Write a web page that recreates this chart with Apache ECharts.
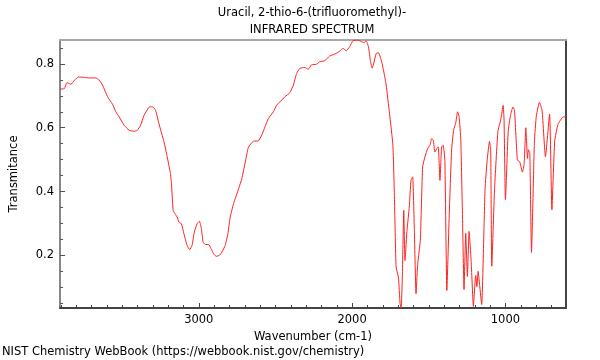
<!DOCTYPE html>
<html>
<head>
<meta charset="utf-8">
<script src="https://cdn.jsdelivr.net/npm/echarts@6/dist/echarts.min.js"></script>
<style>html,body{margin:0;padding:0;background:#fff}#c{width:600px;height:360px}</style>
</head>
<body>
<div id="c"></div>
<script>
// Wavenumber (cm-1) and transmittance
const wavenumber = [3905,3876,3861,3848,3834,3811,3784,3747,3714,3671,3649,3628,3595,3563,3541,3519,3487,3454,3422,3401,3379,3357,3325,3303,3282,3260,3227,3206,3186,3178,3167,3152,3141,3130,3113,3097,3076,3059,3044,3029,3011,2996,2983,2972,2957,2935,2920,2903,2886,2866,2849,2828,2810,2795,2773,2740,2719,2698,2676,2643,2611,2589,2568,2546,2513,2492,2470,2438,2406,2383,2362,2341,2308,2286,2265,2232,2211,2178,2146,2113,2081,2059,2038,2016,1994,1962,1940,1923,1908,1893,1880,1869,1858,1843,1828,1810,1793,1778,1756,1734,1724,1713,1698,1687,1680,1672,1663,1655,1642,1627,1616,1605,1594,1583,1572,1555,1540,1525,1507,1492,1481,1471,1460,1447,1438,1427,1416,1406,1395,1382,1367,1351,1338,1323,1312,1302,1291,1280,1270,1259,1248,1237,1223,1209,1194,1186,1178,1168,1155,1133,1119,1104,1096,1089,1071,1049,1031,1015,1009,1000,982,967,951,941,922,907,889,878,867,856,850,841,830,811,798,778,761,739,712,697,679,657,623,605];
const transmittance = [0.721,0.723,0.741,0.739,0.736,0.749,0.759,0.758,0.756,0.756,0.749,0.734,0.697,0.674,0.650,0.634,0.608,0.592,0.589,0.592,0.608,0.639,0.664,0.666,0.655,0.613,0.556,0.509,0.460,0.425,0.341,0.328,0.320,0.304,0.299,0.268,0.231,0.218,0.231,0.273,0.299,0.307,0.284,0.242,0.234,0.234,0.221,0.205,0.197,0.200,0.210,0.231,0.268,0.320,0.362,0.409,0.441,0.489,0.539,0.558,0.559,0.577,0.603,0.629,0.650,0.671,0.681,0.697,0.710,0.734,0.770,0.786,0.789,0.783,0.797,0.799,0.807,0.810,0.825,0.831,0.840,0.849,0.841,0.854,0.873,0.875,0.870,0.867,0.872,0.853,0.807,0.787,0.803,0.833,0.835,0.812,0.775,0.734,0.645,0.545,0.383,0.163,0.132,0.048,0.035,0.142,0.341,0.184,0.278,0.352,0.435,0.446,0.278,0.080,0.174,0.247,0.477,0.509,0.535,0.545,0.566,0.561,0.524,0.535,0.540,0.435,0.540,0.545,0.498,0.090,0.320,0.530,0.592,0.618,0.650,0.634,0.561,0.320,0.093,0.269,0.134,0.275,0.177,0.040,0.137,0.102,0.150,0.106,0.046,0.407,0.498,0.557,0.530,0.166,0.407,0.589,0.624,0.670,0.624,0.375,0.589,0.639,0.665,0.655,0.498,0.493,0.461,0.487,0.600,0.504,0.531,0.520,0.209,0.557,0.639,0.680,0.654,0.509,0.643,0.343,0.557,0.611,0.634,0.634];

const xMajorTicks = [1000, 2000, 3000];
const xMinorTicks = [700,800,900,1100,1200,1300,1400,1500,1600,1700,1800,1900,2100,2200,2300,2400,2500,2600,2700,2800,2900,3100,3200,3300,3400,3500,3600,3700,3800,3900];
const yMajorTicks = [0.2, 0.4, 0.6, 0.8];
const yMinorTicks = [0.05,0.1,0.15,0.25,0.3,0.35,0.45,0.5,0.55,0.65,0.7,0.75,0.85];

const titleLines = ['Uracil, 2-thio-6-(trifluoromethyl)-', 'INFRARED SPECTRUM'];
const footer = 'NIST Chemistry WebBook (https://webbook.nist.gov/chemistry)';

const X_MIN = 605, X_MAX = 3905, Y_MIN = 0.035, Y_MAX = 0.875;
const FONT = 'DejaVu Sans';
const FS = 11.5;
const FONT_CSS = FS + 'px "DejaVu Sans"';

const chart = echarts.init(document.getElementById('c'), null, {renderer: 'canvas'});
const pts = wavenumber.map((w, i) => [w, transmittance[i]]);

const baseX = {type: 'value', min: X_MIN, max: X_MAX, inverse: true, gridIndex: 0, splitLine: {show: false}};
const baseY = {type: 'value', min: Y_MIN, max: Y_MAX, gridIndex: 0, splitLine: {show: false}};

chart.setOption({
  animation: false,
  backgroundColor: '#fff',
  textStyle: {fontFamily: FONT},
  grid: {left: 57, right: 34, top: 40, bottom: 52, containLabel: false},
  graphic: [
    {type: 'text', x: 312, y: 13, style: {text: titleLines[0], font: FONT_CSS, fill: '#000', textAlign: 'center', textVerticalAlign: 'middle'}},
    {type: 'text', x: 312, y: 30, style: {text: titleLines[1], font: FONT_CSS, fill: '#000', textAlign: 'center', textVerticalAlign: 'middle'}},
    {type: 'text', x: 2, y: 352, style: {text: footer, font: FONT_CSS, fill: '#000', textAlign: 'left', textVerticalAlign: 'middle'}}
  ],
  xAxis: [
    Object.assign({}, baseX, {
      position: 'bottom',
      axisLine: {show: true, onZero: false, lineStyle: {color: '#444', width: 2}},
      axisTick: {show: true, inside: true, length: 5, customValues: xMajorTicks, lineStyle: {color: '#444'}},
      axisLabel: {show: true, customValues: xMajorTicks, color: '#000', fontSize: FS, fontFamily: FONT, margin: 6, formatter: v => String(Math.round(v))},
      name: 'Wavenumber (cm-1)', nameLocation: 'middle', nameGap: 21,
      nameTextStyle: {color: '#000', fontSize: FS, fontFamily: FONT}
    }),
    Object.assign({}, baseX, {
      position: 'bottom',
      axisLine: {show: false, onZero: false},
      axisTick: {show: true, inside: true, length: 3, customValues: xMinorTicks, lineStyle: {color: '#444'}},
      axisLabel: {show: false}
    }),
    Object.assign({}, baseX, {
      position: 'top',
      axisLine: {show: true, onZero: false, lineStyle: {color: '#a8a8a8', width: 2}},
      axisTick: {show: false}, axisLabel: {show: false}
    })
  ],
  yAxis: [
    Object.assign({}, baseY, {
      position: 'left',
      axisLine: {show: true, onZero: false, lineStyle: {color: '#888', width: 2}},
      axisTick: {show: true, inside: true, length: 5, customValues: yMajorTicks, lineStyle: {color: '#555'}},
      axisLabel: {show: true, customValues: yMajorTicks, color: '#000', fontSize: FS, fontFamily: FONT, margin: 6, formatter: v => v.toFixed(1)},
      name: 'Transmitance', nameLocation: 'middle', nameGap: 40, nameRotate: 90,
      nameTextStyle: {color: '#000', fontSize: FS, fontFamily: FONT}
    }),
    Object.assign({}, baseY, {
      position: 'left',
      axisLine: {show: false, onZero: false},
      axisTick: {show: true, inside: true, length: 3, customValues: yMinorTicks, lineStyle: {color: '#555'}},
      axisLabel: {show: false}
    }),
    Object.assign({}, baseY, {
      position: 'right',
      axisLine: {show: true, onZero: false, lineStyle: {color: '#444', width: 2}},
      axisTick: {show: false}, axisLabel: {show: false}
    })
  ],
  series: [{
    type: 'line', xAxisIndex: 0, yAxisIndex: 0, data: pts,
    showSymbol: false, smooth: 0.15, clip: true,
    lineStyle: {color: '#ff2020', width: 1}
  }]
});
</script>
</body>
</html>
